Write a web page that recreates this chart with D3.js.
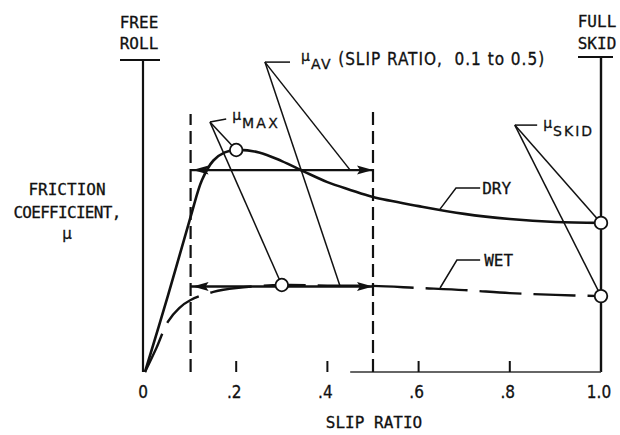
<!DOCTYPE html>
<html><head><meta charset="utf-8">
<script src="https://cdn.jsdelivr.net/npm/d3@7"></script>
<style>
html,body{margin:0;padding:0;background:#fff;}
svg{display:block;}
text{fill:#111;stroke:#111;stroke-width:0.3;white-space:pre;}
</style></head><body><svg id="c" width="620" height="435"></svg>
<script>
// ---- data (slip ratio, friction coefficient in relative units) ----
const drySlip = [0,0.05,0.1,0.125,0.15,0.175,0.2,0.25,0.3,0.35,0.4,0.45,0.5,0.6,0.7,0.8,0.9,1.0];
const dryMu   = [0,0.253,0.517,0.64,0.705,0.732,0.74,0.732,0.703,0.667,0.633,0.607,0.583,0.553,0.527,0.51,0.5,0.497];
const wetSlip = [0,0.025,0.05,0.075,0.1,0.15,0.2,0.3,0.4,0.5,0.6,0.7,0.8,0.9,1.0];
const wetMu   = [0,0.08,0.167,0.213,0.24,0.267,0.28,0.29,0.288,0.287,0.28,0.273,0.263,0.257,0.253];
const tickValues = [0,0.2,0.4,0.6,0.8,1.0];
const tickLabels = ["0",".2",".4",".6",".8","1.0"];
const avgRange = [0.1,0.5];
const muAvValues = [0.673,0.285];            // dry, wet
const muMaxPoints = [[0.2,0.74],[0.3,0.29]];  // dry, wet
const muSkidPoints = [[1.0,0.497],[1.0,0.253]];
const seriesNames = ["DRY","WET"];
// annotation anchors (data space)
const muMaxVertex = [0.1425,0.833], muMaxBarEnd = 0.178;
const muAvVertex = [0.263,1.033], muAvBarEnd = 0.318;
const muAvTargets = [[0.45,0.673],[0.428,0.285]];
const muSkidVertex = [0.811,0.823], muSkidBarEnd = 0.86;
const dryLeader = [[0.647,0.543],[0.682,0.613],[0.735,0.613]];
const wetLeader = [[0.647,0.28],[0.684,0.373],[0.735,0.373]];
const freeRollTop = 1.04, fullSkidTop = 1.05, dashTop = [0.86,0.88];

const MONO = '"DejaVu Sans Mono", monospace';
const SANS = '"DejaVu Sans", sans-serif';
const COND = '"DejaVu Sans Condensed", "DejaVu Sans", sans-serif';

const svg = d3.select("#c");
const x = d3.scaleLinear().domain([0,1]).range([145,601]);
const y = d3.scaleLinear().domain([0,1]).range([372,72]);
const smooth = d3.line().x(d=>x(d[0])).y(d=>y(d[1])).curve(d3.curveCatmullRom.alpha(0.5));
const straight = d3.line().x(d=>x(d[0])).y(d=>y(d[1]));
const g = svg.append("g").attr("fill","none").attr("stroke","#111");

// axes: free roll / full skid verticals with top bars
g.append("path").attr("d", straight([[0,0],[0,freeRollTop]])).attr("stroke-width",2.2).attr("transform","translate(-2,0)");
g.append("line").attr("x1",x(0)-25).attr("x2",x(0)+15).attr("y1",y(freeRollTop)).attr("y2",y(freeRollTop)).attr("stroke-width",2);
g.append("path").attr("d", straight([[1,0],[1,fullSkidTop]])).attr("stroke-width",2.4);
g.append("line").attr("x1",x(1)-23).attr("x2",x(1)+12).attr("y1",y(fullSkidTop)).attr("y2",y(fullSkidTop)).attr("stroke-width",2);
// partial baseline
g.append("path").attr("d", straight([[0.45,0],[1,0]])).attr("stroke-width",1.3).attr("stroke","#333");
// ticks
g.selectAll(".tk").data(tickValues.filter(v=>v>0&&v<1)).join("line")
  .attr("x1",d=>x(d)).attr("x2",d=>x(d)).attr("y1",y(0)).attr("y2",y(0)-11).attr("stroke-width",2);
// dashed verticals at slip 0.1 / 0.5
g.selectAll(".dv").data(avgRange).join("path")
  .attr("d",(d,i)=>straight([[d,0],[d,dashTop[i]]]))
  .attr("stroke-width",2.2).attr("stroke-dasharray","13,6");

// leader lines
const lw = 1.5;
g.append("path").attr("d", straight([[muMaxVertex[0],muMaxVertex[1]],[muMaxBarEnd,muMaxVertex[1]+0.01]])).attr("stroke-width",lw);
muMaxPoints.forEach(p=>g.append("path").attr("d", straight([muMaxVertex,p])).attr("stroke-width",lw));
g.append("path").attr("d", straight([muAvVertex,[muAvBarEnd,muAvVertex[1]]])).attr("stroke-width",lw);
muAvTargets.forEach(p=>g.append("path").attr("d", straight([muAvVertex,p])).attr("stroke-width",lw));
g.append("path").attr("d", straight([muSkidVertex,[muSkidBarEnd,muSkidVertex[1]]])).attr("stroke-width",lw);
muSkidPoints.forEach(p=>g.append("path").attr("d", straight([muSkidVertex,p])).attr("stroke-width",lw));
g.append("path").attr("d", straight(dryLeader)).attr("stroke-width",lw);
g.append("path").attr("d", straight(wetLeader)).attr("stroke-width",lw);

// curves
g.append("path").attr("d", smooth(drySlip.map((s,i)=>[s,dryMu[i]]))).attr("stroke-width",2.6);
g.append("path").attr("d", smooth(wetSlip.map((s,i)=>[s,wetMu[i]]))).attr("stroke-width",2.4).attr("stroke-dasharray","42,12");

// mu_AV arrows (double headed)
function head(tx,ty,dir){ const L=16,W=4.5; return `M${tx},${ty}L${tx-dir*L},${ty-W}L${tx-dir*L+3*dir},${ty}L${tx-dir*L},${ty+W}Z`; }
muAvValues.forEach(v=>{
  g.append("path").attr("d", straight([[avgRange[0],v],[avgRange[1],v]])).attr("stroke-width",2.4);
  g.append("path").attr("d", head(x(avgRange[1]),y(v),1)).attr("fill","#111").attr("stroke","none");
  g.append("path").attr("d", head(x(avgRange[0])+2,y(v),-1)).attr("fill","#111").attr("stroke","none");
});

// circles
svg.selectAll(".pt").data(muMaxPoints.concat(muSkidPoints)).join("circle")
  .attr("cx",d=>x(d[0])).attr("cy",d=>y(d[1])).attr("r",6.3)
  .attr("fill","#fff").attr("stroke","#111").attr("stroke-width",1.8);

// texts
const T = (tx,ty,s,opts={})=>svg.append("text").attr("x",tx).attr("y",ty)
  .attr("font-family",opts.f||MONO).attr("font-size",opts.size||16)
  .attr("text-anchor",opts.anchor||"middle").attr("letter-spacing",opts.ls||0).text(s);

T(x(0)-6,28,"FREE"); T(x(0)-6,49,"ROLL");
T(x(1)-4,27,"FULL"); T(x(1)-4,49,"SKID");
T(67,195,"FRICTION"); T(67,218,"COEFFICIENT,",{ls:-0.7}); T(67,239,"μ",{f:SANS,size:15});
T(x(0.5)+1,428,"SLIP RATIO");
tickValues.forEach((v,i)=>T(x(v)-2,398,tickLabels[i],{f:COND,size:17}));
T(x(dryLeader[2][0])+2,194,seriesNames[0],{anchor:"start"});
T(x(wetLeader[2][0])+4,266,seriesNames[1],{anchor:"start"});

function muLabel(vx,vy,sub,subLs,extra){
  const t = svg.append("text").attr("x",vx).attr("y",vy).attr("font-family",SANS).attr("text-anchor","start");
  t.append("tspan").attr("font-size",14).text("μ");
  t.append("tspan").attr("font-size",14).attr("dy",8).attr("dx",1).attr("letter-spacing",subLs).text(sub);
  if(extra) t.append("tspan").attr("font-family",COND).attr("font-size",17).attr("dy",-4).attr("dx",6).attr("letter-spacing",1).text(extra);
}
muLabel(x(muMaxBarEnd)+6, y(muMaxVertex[1])-2, "MAX", 2.2);
muLabel(x(muAvBarEnd)+11, y(muAvVertex[1])-1, "AV", 1.5, "(SLIP RATIO,  0.1 to 0.5)");
muLabel(x(muSkidBarEnd)+6, y(muSkidVertex[1])+3, "SKID", 2);
</script></body></html>
